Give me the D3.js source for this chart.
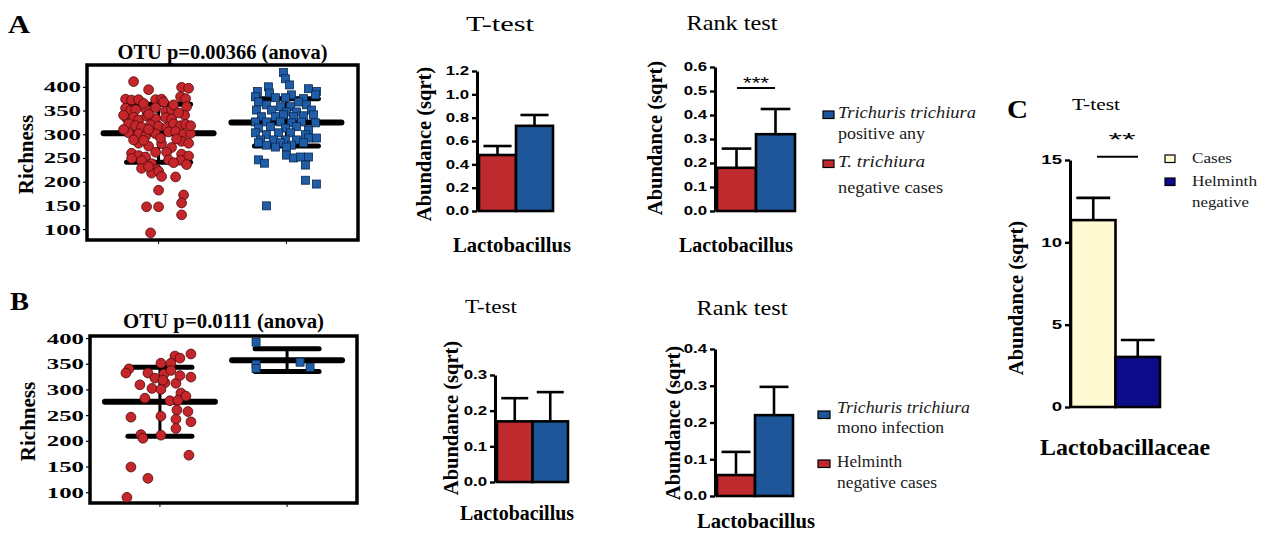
<!DOCTYPE html>
<html><head><meta charset="utf-8">
<script src="https://cdn.jsdelivr.net/npm/d3@7"></script>
<style>body{margin:0;background:#fff}svg{display:block}</style>
</head><body>
<svg id="c" width="1266" height="536"></svg>
<script>
// ================= DATA =================
// Scatter (richness) : [jitter, richness]
const scatterGroups = ["negative", "positive"];
const richTicks = [100, 150, 200, 250, 300, 350, 400];
const richDomainA = [77, 446];
const richDomainB = [79, 404];
const richA_neg = [[-25,411],[-10,394],[23,399],[30,397],[-33,374],[-27,372],[-20,373],[-3,373],[3,374],[22,379],[27,375],[-33,355],[-28,350],[-23,352],[-13,353],[-3,356],[7,349],[13,352],[28,358],[-32,334],[-25,336],[-20,330],[-12,338],[-3,333],[7,335],[13,332],[26,340],[-30,322],[-23,318],[-17,315],[-8,320],[0,317],[8,314],[15,322],[22,318],[27,321],[-30,303],[-20,301],[-13,296],[-3,301],[10,305],[17,306],[25,300],[32,302],[-20,281],[-10,275],[3,280],[13,272],[23,285],[30,281],[-27,260],[-20,255],[-13,252],[-3,262],[23,258],[30,254],[-27,249],[-17,244],[-7,238],[22,245],[28,236],[-17,228],[-2,226],[-7,218],[0,222],[3,211],[17,210],[0,182],[25,172],[-12,147],[0,147],[23,155],[23,130],[-8,92],[-15,365],[15,362],[-10,342],[20,345],[2,292],[-10,310],[18,290],[-25,288],[8,262],[10,246],[-35,340],[-35,310],[32,318],[5,368],[-15,287],[15,240],[-10,232]];
const richA_pos = [[-3,430],[-1,417],[3,404],[-18,400],[-29,390],[22,396],[30,390],[-17,387],[-31,379],[5,383],[29,383],[-11,377],[-1,377],[17,375],[-28,368],[12,368],[-20,362],[-6,358],[4,358],[20,362],[-30,351],[-15,351],[0,347],[10,347],[25,351],[-25,337],[-11,337],[-3,341],[7,337],[17,339],[27,341],[-31,326],[-20,326],[-6,326],[5,324],[15,326],[29,324],[-28,313],[-16,316],[-1,313],[10,316],[22,309],[-31,303],[-20,299],[-8,303],[4,303],[19,299],[-26,288],[-13,288],[-1,288],[10,288],[22,292],[30,292],[-28,282],[-20,277],[-6,282],[5,277],[17,282],[-11,273],[0,273],[-28,246],[-22,239],[0,256],[7,250],[14,252],[22,252],[19,235],[19,203],[30,195],[-20,149]];
const richB_neg = [[15,365],[31,369],[20,361],[1,351],[11,351],[-31,340],[-34,332],[-12,332],[4,330],[-5,322],[31,324],[-20,309],[5,313],[16,312],[-8,302],[1,300],[21,293],[-15,283],[10,278],[18,279],[17,260],[28,257],[-29,246],[1,248],[16,242],[31,237],[16,224],[-19,212],[-17,205],[1,211],[29,172],[-29,149],[-12,127],[-33,90],[11,337],[20,327],[3,318],[26,287]];
const richB_mono = [[-31,392],[-31,349],[-31,341],[13,353],[23,343]];
const richA_mean = [302, 325];
const richA_sd = [61, 50];
const richB_mean = [276, 357];
const richB_sd = [67, 22];

// Bars
const barGroups = ["negative", "positive"];
const aT_mean = [0.48, 0.73],  aT_sem = [0.077, 0.093], aT_ticks = [0,0.2,0.4,0.6,0.8,1.0,1.2];
const aR_mean = [0.18, 0.32],  aR_sem = [0.08, 0.105],  aR_ticks = [0,0.1,0.2,0.3,0.4,0.5,0.6];
const bT_mean = [0.17, 0.17],  bT_sem = [0.065, 0.082], bT_ticks = [0,0.1,0.2,0.3];
const bR_mean = [0.057, 0.22], bR_sem = [0.063, 0.077], bR_ticks = [0,0.1,0.2,0.3,0.4];
const cGroups = ["Cases", "Helminth negative"];
const c_mean = [11.35, 3.04], c_sem = [1.35, 1.03], c_ticks = [0,5,10,15];

// ================= DRAW =================
const svg = d3.select("#c");
const SERIF = "'Liberation Serif','Times New Roman',serif";
const SANS = "'Liberation Sans',Arial,sans-serif";
const RED = "#bf2a2e", BLUE = "#1d5799";

function txt(sel, s, o) {
  const t = sel.append("text").attr("x", o.x).attr("y", o.y).text(s)
    .attr("font-family", o.ff || SERIF).attr("font-size", o.fs)
    .attr("font-weight", o.fw || "normal").attr("font-style", o.it ? "italic" : "normal")
    .attr("text-anchor", o.a || "start").attr("fill", o.fill || "#000");
  if (o.ls) t.attr("letter-spacing", o.ls);
  if (o.w) t.attr("textLength", o.w).attr("lengthAdjust", "spacingAndGlyphs");
  if (o.rot) t.attr("transform", `rotate(-90 ${o.x} ${o.y})`);
  return t;
}

function stretchTicks(axisG, sx, dx) {
  axisG.selectAll(".tick text").attr("x", dx).each(function () {
    const L = this.getComputedTextLength();
    d3.select(this).attr("textLength", L * sx).attr("lengthAdjust", "spacingAndGlyphs");
  });
}

// ---------- scatter panels ----------
function scatter(o) {
  const g = svg.append("g");
  const x = d3.scalePoint().domain(scatterGroups).range([o.x0, o.x1]).padding(o.pad);
  const y = d3.scaleLinear().domain(o.domain).range([o.y1, o.y0]);
  const jit = d3.scaleLinear().domain([-35, 35]).range([-35, 35]);
  // y axis ticks + labels
  const ax = g.append("g").attr("transform", `translate(${o.x0},0)`)
    .call(d3.axisLeft(y).tickValues(richTicks).tickSize(4).tickSizeOuter(0).tickPadding(6));
  ax.select(".domain").remove();
  ax.selectAll(".tick line").attr("stroke-width", 1.2);
  ax.selectAll(".tick text").attr("font-family", SERIF).attr("font-weight", "bold").attr("font-size", 15.5).attr("fill", "#000");
  stretchTicks(ax, 1.6, -6);
  // x ticks
  g.selectAll(".xt").data(scatterGroups).enter().append("line")
    .attr("x1", d => x(d)).attr("x2", d => x(d)).attr("y1", o.y1).attr("y2", o.y1 + 4)
    .attr("stroke", "#000").attr("stroke-width", 1);
  // box
  g.append("rect").attr("x", o.x0).attr("y", o.y0).attr("width", o.x1 - o.x0).attr("height", o.y1 - o.y0)
    .attr("fill", "none").attr("stroke", "#000").attr("stroke-width", 3.5);
  // mean / sd lines
  scatterGroups.forEach((k, i) => {
    const cx = x(k), m = o.mean[i], s = o.sd[i];
    g.append("line").attr("x1", cx).attr("x2", cx).attr("y1", y(m - s)).attr("y2", y(m + s))
      .attr("stroke", "#000").attr("stroke-width", 3);
    [[m, 55, 6], [m - s, 32, 5], [m + s, 32, 5]].forEach(([v, hw, sw]) => {
      g.append("line").attr("x1", cx - hw).attr("x2", cx + hw).attr("y1", y(v)).attr("y2", y(v))
        .attr("stroke", "#000").attr("stroke-width", sw).attr("stroke-linecap", "round");
    });
  });
  // points
  g.selectAll(".pc").data(o.neg).enter().append("circle")
    .attr("cx", d => x(scatterGroups[0]) + jit(d[0])).attr("cy", d => y(d[1])).attr("r", 4.9)
    .attr("fill", "#c4262b").attr("stroke", "#4d0a0a").attr("stroke-width", 0.8);
  g.selectAll(".ps").data(o.pos).enter().append("rect")
    .attr("x", d => x(scatterGroups[1]) + jit(d[0]) - 4).attr("y", d => y(d[1]) - 4)
    .attr("width", 8).attr("height", 8)
    .attr("fill", "#1f5da6").attr("stroke", "#0a2850").attr("stroke-width", 0.8);
  // labels
  txt(g, o.title, {x: (o.x0 + o.x1) / 2, y: o.ty, fs: 20, fw: "bold", a: "middle", w: o.tw});
  txt(g, "Richness", {x: o.lx, y: (o.y0 + o.y1) / 2 + 2, fs: 21, fw: "bold", a: "middle", rot: true});
}

scatter({x0: 87, x1: 358, y0: 65, y1: 240, pad: 0.56, domain: richDomainA, neg: richA_neg, pos: richA_pos,
  mean: richA_mean, sd: richA_sd, title: "OTU p=0.00366 (anova)", ty: 59, tw: 210, lx: 33});
scatter({x0: 90, x1: 357, y0: 336, y1: 503, pad: 0.55, domain: richDomainB, neg: richB_neg, pos: richB_mono,
  mean: richB_mean, sd: richB_sd, title: "OTU p=0.0111 (anova)", ty: 328, tw: 201, lx: 35});

// ---------- bar panels ----------
function bars(o) {
  const g = svg.append("g");
  const x = d3.scaleBand().domain(o.groups).range([o.bx0, o.bx1]).padding(0);
  const y = d3.scaleLinear().domain([0, o.max]).range([o.yb, o.yt]);
  const bw = x.bandwidth();
  g.selectAll(".bar").data(o.groups).enter().append("rect")
    .attr("x", d => x(d)).attr("y", (d, i) => y(o.mean[i]))
    .attr("width", bw).attr("height", (d, i) => y(0) - y(o.mean[i]))
    .attr("fill", (d, i) => o.colors[i]).attr("stroke", "#000").attr("stroke-width", 2.6);
  o.groups.forEach((k, i) => {
    const cx = x(k) + bw / 2, top = y(o.mean[i]), e = y(o.mean[i] + o.sem[i]);
    g.append("line").attr("x1", cx).attr("x2", cx).attr("y1", top).attr("y2", e).attr("stroke", "#000").attr("stroke-width", 2.6);
    g.append("line").attr("x1", cx - bw * 0.38).attr("x2", cx + bw * 0.38).attr("y1", e).attr("y2", e)
      .attr("stroke", "#000").attr("stroke-width", 2.6);
  });
  const ax = g.append("g").attr("transform", `translate(${o.ax},0)`)
    .call(d3.axisLeft(y).tickValues(o.ticks).tickFormat(o.fmt).tickSize(5).tickSizeOuter(0).tickPadding(4));
  ax.select(".domain").attr("stroke-width", 3);
  ax.selectAll(".tick line").attr("stroke-width", 2.4);
  ax.selectAll(".tick text").attr("font-family", SANS).attr("font-weight", "bold").attr("font-size", 12).attr("fill", "#000");
  stretchTicks(ax, o.tsx || 1.4, -8);
  txt(g, "Abundance (sqrt)", {x: o.lx, y: o.ly, fs: 20.5, fw: "bold", a: "middle", rot: true});
  txt(g, o.title, {x: o.tx, y: o.ty, fs: o.tfs, a: "middle", w: o.tw});
  txt(g, o.xlab, {x: o.xx, y: o.xy, fs: o.xfs || 20, fw: "bold", a: "middle", w: o.xw});
  return {g, x, y};
}

const f1 = d3.format(".1f");
bars({groups: barGroups, mean: aT_mean, sem: aT_sem, ticks: aT_ticks, fmt: f1, max: 1.2, colors: [RED, BLUE],
  bx0: 479, bx1: 553, yb: 211, yt: 71, ax: 477, lx: 431, ly: 144,
  title: "T-test", tx: 500, ty: 31, tfs: 20, tw: 68, xlab: "Lactobacillus", xx: 512, xy: 252, xw: 118});
const aR = bars({groups: barGroups, mean: aR_mean, sem: aR_sem, ticks: aR_ticks, fmt: f1, max: 0.6, colors: [RED, BLUE],
  bx0: 717, bx1: 795, yb: 211, yt: 67, ax: 715, lx: 662, ly: 138,
  title: "Rank test", tx: 732, ty: 30, tfs: 21, tw: 91, xlab: "Lactobacillus", xx: 736, xy: 252, xw: 114});
bars({groups: barGroups, mean: bT_mean, sem: bT_sem, ticks: bT_ticks, fmt: f1, max: 0.3, colors: [RED, BLUE],
  bx0: 497, bx1: 568, yb: 482, yt: 375, ax: 495, lx: 458, ly: 418,
  title: "T-test", tx: 491, ty: 313, tfs: 19, tw: 52, xlab: "Lactobacillus", xx: 517, xy: 520, xw: 114});
bars({groups: barGroups, mean: bR_mean, sem: bR_sem, ticks: bR_ticks, fmt: f1, max: 0.4, colors: [RED, BLUE],
  bx0: 717, bx1: 793, yb: 496, yt: 349, ax: 715, lx: 680, ly: 423,
  title: "Rank test", tx: 742, ty: 315, tfs: 21, tw: 91, xlab: "Lactobacillus", xx: 756, xy: 528, xw: 118});
const cP = bars({groups: cGroups, mean: c_mean, sem: c_sem, ticks: c_ticks, fmt: d3.format("d"), max: 15, colors: ["#fffad2", "#0c0c8a"],
  bx0: 1071, bx1: 1160, yb: 407, yt: 160, ax: 1070, lx: 1023, ly: 298, tsx: 1.55,
  title: "T-test", tx: 1096, ty: 110, tfs: 17, tw: 48, xlab: "Lactobacillaceae", xx: 1125, xy: 455, xfs: 24, xw: 170});

// significance marks
svg.append("line").attr("x1", 737).attr("x2", 775).attr("y1", aR.y(0.513)).attr("y2", aR.y(0.513)).attr("stroke", "#000").attr("stroke-width", 2);
txt(svg, "***", {x: 756, y: 89, fs: 17, ff: SANS, a: "middle", w: 26});
svg.append("line").attr("x1", 1097).attr("x2", 1138).attr("y1", cP.y(15.2)).attr("y2", cP.y(15.2)).attr("stroke", "#000").attr("stroke-width", 2);
txt(svg, "**", {x: 1122, y: 146, fs: 19, ff: SANS, a: "middle", w: 27});

// legends
function legend(items, x, sqx) {
  items.forEach(it => {
    svg.append("rect").attr("x", sqx).attr("y", it.sq).attr("width", it.sw || 11).attr("height", 7.5)
      .attr("fill", it.c).attr("stroke", "#000").attr("stroke-width", 1.2);
    it.lines.forEach(l => txt(svg, l.t, {x: x, y: l.y, fs: l.fs || 16, it: l.it, w: l.w, fill: "#1a1a1a"}));
  });
}
legend([
  {c: BLUE, sq: 111, lines: [{t: "Trichuris trichiura", y: 118, it: true, w: 138}, {t: "positive any", y: 139, w: 87}]},
  {c: RED, sq: 160, lines: [{t: "T. trichiura", y: 167, it: true, w: 87}, {t: "negative cases", y: 193, w: 105}]}
], 838, 823);
legend([
  {c: BLUE, sq: 411, sw: 12, lines: [{t: "Trichuris trichiura", y: 413, it: true, w: 133}, {t: "mono infection", y: 433, w: 107}]},
  {c: RED, sq: 460, sw: 12, lines: [{t: "Helminth", y: 467, w: 65}, {t: "negative cases", y: 488, w: 100}]}
], 837, 818);
legend([
  {c: "#fffad2", sq: 155, sw: 10, lines: [{t: "Cases", y: 163, fs: 15, w: 40}]},
  {c: "#0c0c8a", sq: 178, sw: 10, lines: [{t: "Helminth", y: 186, fs: 15, w: 65}, {t: "negative", y: 207, fs: 15, w: 57}]}
], 1192, 1165);

// panel letters
txt(svg, "A", {x: 8, y: 33, fs: 26, fw: "bold", w: 22});
txt(svg, "B", {x: 10, y: 310, fs: 26, fw: "bold", w: 19});
txt(svg, "C", {x: 1007, y: 118, fs: 26, fw: "bold", w: 21});
</script>
</body></html>
